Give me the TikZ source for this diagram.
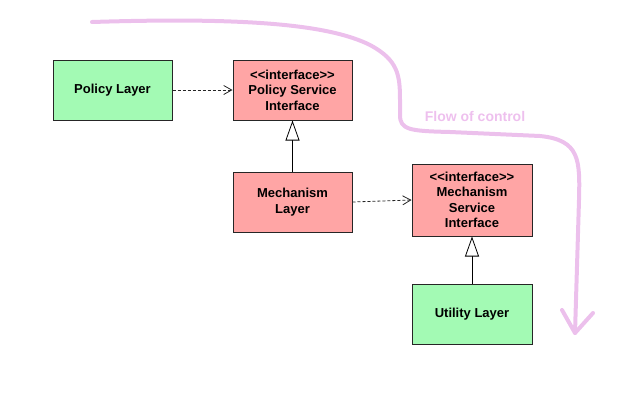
\documentclass[tikz,border=0pt]{standalone}
\usepackage{fontspec}
\setmainfont{Liberation Sans}
\usetikzlibrary{positioning, arrows.meta, calc}

\definecolor{layergreen}{RGB}{163,250,180}
\definecolor{ifacepink}{RGB}{255,165,165}
\definecolor{flowpink}{RGB}{236,192,236}
\definecolor{flowtext}{RGB}{238,192,238}

\begin{document}
\begin{tikzpicture}[
    x=1pt, y=1pt,
    font=\fontsize{13}{15.5}\selectfont\bfseries,
    layer/.style={
        draw=black!85, line width=1pt, fill=layergreen,
        minimum width=119pt, minimum height=60pt,
        align=center, inner sep=2pt,
    },
    iface/.style={
        layer, fill=ifacepink,
    },
    uses/.style={-{Straight Barb[length=8pt, width=9pt]}, dash pattern=on 3pt off 2pt, draw=black!85, line width=0.8pt},
    realizes/.style={-{Triangle[open, length=20pt, width=14pt, fill=white]}, draw=black, line width=0.8pt},
    flow/.style={draw=flowpink, line width=4pt, line cap=round, line join=round},
]

\useasboundingbox (0,0) rectangle (635,-410);

\def\colA{112.5}
\def\colB{292.5}
\def\colC{472}
\def\ltlt{{<}{<}}
\def\gtgt{{>}{>}}

\node[layer] (policy) at (\colA,-90) {Policy Layer};
\node[iface] (psi) at (\colB,-90) {\ltlt interface\gtgt\\Policy Service\\Interface};
\node[iface] (mech) at (\colB,-202) {Mechanism\\Layer};
\node[iface, minimum width=120pt, minimum height=72pt] (msi) at (\colC,-200) {\ltlt interface\gtgt\\Mechanism\\Service\\Interface};
\node[layer, minimum width=120pt] (util) at (\colC,-314) {Utility Layer};

% dependencies
\draw[uses] (policy) -- (psi);
\draw[uses] (mech.east) -- (msi.west);

% realizations
\draw[realizes] (mech) -- (psi);
\draw[realizes] (util) -- (msi);

% flow of control
\coordinate (fstart) at (92,-22);
\coordinate (fend) at (575,-333);
\draw[flow] (fstart) .. controls (250,-17) and (330,-25) .. (370,-45)
    .. controls (398,-60) and (400,-75) .. (400,-100) -- (400,-115)
    .. controls (400,-130) and (410,-131) .. (450,-132) -- (540,-136)
    .. controls (580,-140) and (580,-160) .. (579,-200) -- (fend);
\draw[flow] (562,-310) -- (fend) -- (593,-313);
\node[text=flowtext, font=\fontsize{14}{16}\selectfont\bfseries] (flowlbl) at (475,-116) {Flow of control};

\end{tikzpicture}
\end{document}
